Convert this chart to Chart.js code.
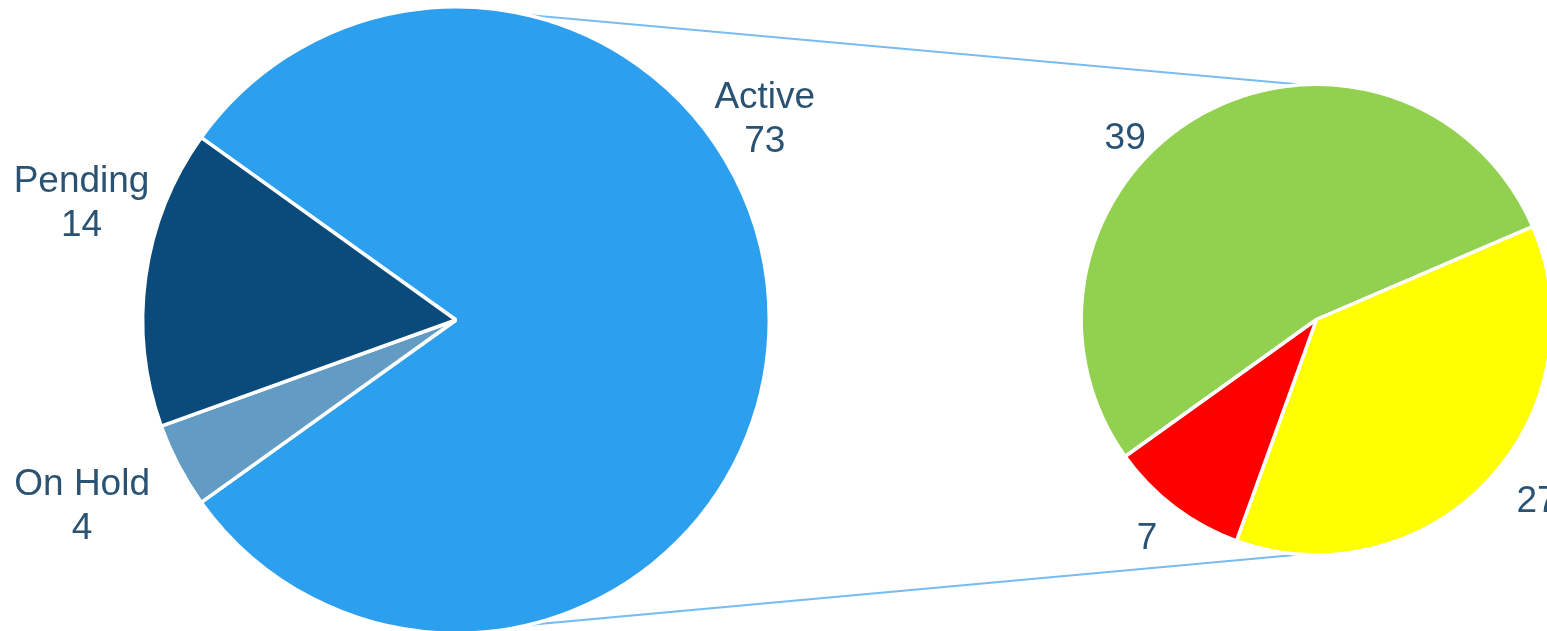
<!DOCTYPE html>
<html>
<head>
<meta charset="utf-8">
<title>Project status</title>
<script src="https://cdn.jsdelivr.net/npm/chart.js@4.4.1/dist/chart.umd.min.js"></script>
<style>
  html, body { margin: 0; padding: 0; background: #ffffff; overflow: hidden; }
  #wrap { position: relative; width: 1547px; height: 631px; }
  #wrap canvas { position: absolute; left: 0; top: 0; }
  #statusChart { z-index: 1; }
  #detailChart { z-index: 2; }
</style>
</head>
<body>
<div id="wrap">
  <canvas id="statusChart" width="1547" height="631"></canvas>
  <canvas id="detailChart" width="1547" height="631"></canvas>
</div>
<script>
// Main breakdown (clockwise order from the top of the "Active" slice)
const statusLabels = ['Active', 'On Hold', 'Pending'];
const statusValues = [73, 4, 14];
const statusColors = ['#2c9fee', '#629cc4', '#0b4b7b'];

// Breakdown of the "Active" slice
const detailLabels = ['On Track', 'At Risk', 'Off Track'];
const detailValues = [39, 27, 7];
const detailColors = ['#92d050', '#ffff00', '#ff0000'];

const TEXT_COLOR = '#2a5272';
const LABEL_FONT = '37px "Liberation Sans", Arial, sans-serif';
const SLICE_BORDER = 3.5;

// Centre the first slice on the right-hand side; the detail pie starts where it ends.
const statusTotal = statusValues.reduce((a, b) => a + b, 0);
const firstSweep = statusValues[0] / statusTotal * 360;
const statusRotation = 90 - firstSweep / 2;
const detailRotation = statusRotation + firstSweep;

// Draws the value (and optionally the category) just outside each slice.
const sliceLabels = {
  id: 'sliceLabels',
  afterDatasetsDraw(chart, args, opts) {
    const ctx = chart.ctx;
    const meta = chart.getDatasetMeta(0);
    const values = chart.data.datasets[0].data;
    ctx.save();
    ctx.font = opts.font;
    ctx.fillStyle = opts.color;
    ctx.textAlign = 'center';
    ctx.textBaseline = 'middle';
    meta.data.forEach((arc, i) => {
      const angle = (arc.startAngle + arc.endAngle) / 2 + (opts.shift[i] || 0) * Math.PI / 180;
      const r = arc.outerRadius + opts.gap[i];
      const x = arc.x + Math.cos(angle) * r;
      const y = arc.y + Math.sin(angle) * r + opts.dy;
      const lines = opts.withName ? [chart.data.labels[i], String(values[i])] : [String(values[i])];
      lines.forEach((t, k) => {
        ctx.fillText(t, x, y + (k - (lines.length - 1) / 2) * opts.lineHeight);
      });
    });
    ctx.restore();
  }
};

const detailChart = new Chart(document.getElementById('detailChart'), {
  type: 'pie',
  data: {
    labels: detailLabels,
    datasets: [{
      data: detailValues,
      backgroundColor: detailColors,
      borderColor: '#ffffff',
      borderWidth: SLICE_BORDER
    }]
  },
  options: {
    responsive: false,
    animation: false,
    rotation: detailRotation,
    radius: 235.3,
    layout: { padding: { left: 1086, right: 0, top: 8, bottom: 0 } },
    events: [],
    plugins: {
      legend: { display: false },
      tooltip: { enabled: false },
      sliceLabels: {
        font: LABEL_FONT,
        color: TEXT_COLOR,
        lineHeight: 44.4,
        withName: false,
        dy: 4,
        shift: [-16.5, -4.4, 1],
        gap: [31, 48, 39]
      }
    }
  },
  plugins: [sliceLabels]
});

// Lines joining the top and bottom of the main pie to the detail pie.
const connectors = {
  id: 'connectors',
  beforeDatasetsDraw(chart, args, opts) {
    const a = chart.getDatasetMeta(0).data[0];
    const b = detailChart.getDatasetMeta(0).data[0];
    if (!a || !b) return;
    const ctx = chart.ctx;
    ctx.save();
    [-1, 1].forEach(dir => {
      const x1 = a.x, y1 = a.y + dir * (a.outerRadius - opts.inset);
      const x2 = b.x, y2 = b.y + dir * (b.outerRadius - opts.inset);
      const g = ctx.createLinearGradient(x1, y1, x2, y2);
      g.addColorStop(0, 'rgba(120, 188, 242, 0)');
      g.addColorStop(0.09, 'rgba(120, 188, 242, 1)');
      g.addColorStop(0.97, 'rgba(120, 188, 242, 1)');
      g.addColorStop(1, 'rgba(120, 188, 242, 0)');
      ctx.strokeStyle = g;
      ctx.lineWidth = opts.width;
      ctx.beginPath();
      ctx.moveTo(x1, y1);
      ctx.lineTo(x2, y2);
      ctx.stroke();
    });
    ctx.restore();
  }
};

const statusChart = new Chart(document.getElementById('statusChart'), {
  type: 'pie',
  data: {
    labels: statusLabels,
    datasets: [{
      data: statusValues,
      backgroundColor: statusColors,
      borderColor: '#ffffff',
      borderWidth: SLICE_BORDER
    }]
  },
  options: {
    responsive: false,
    animation: false,
    rotation: statusRotation,
    radius: 313.3,
    layout: { padding: { left: 0, right: 635, top: 9, bottom: 0 } },
    events: [],
    plugins: {
      legend: { display: false },
      tooltip: { enabled: false },
      connectors: { inset: 1.7, width: 2 },
      sliceLabels: {
        font: LABEL_FONT,
        color: TEXT_COLOR,
        lineHeight: 44.4,
        withName: true,
        dy: 4,
        shift: [-33.5, 1.6, 9.9],
        gap: [57, 103, 80]
      }
    }
  },
  plugins: [connectors, sliceLabels]
});
</script>
</body>
</html>
